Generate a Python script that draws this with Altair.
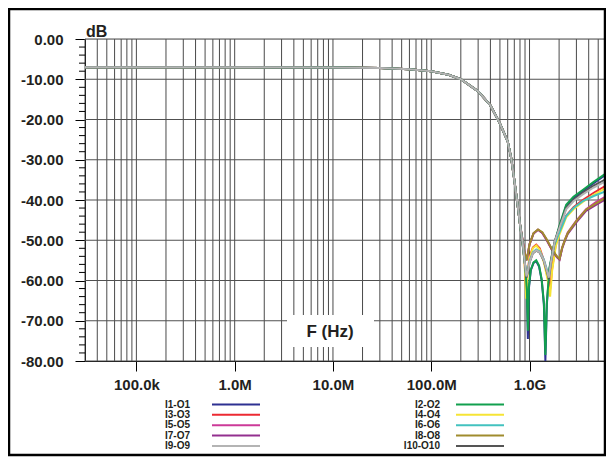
import altair as alt
import pandas as pd

# ---------------- data ----------------
SERIES = ["I1-O1", "I2-O2", "I3-O3", "I4-O4", "I5-O5",
          "I6-O6", "I7-O7", "I8-O8", "I9-O9", "I10-O10"]
COLORS = ["#2e3192", "#12a04e", "#ec2a32", "#f6e435", "#cc3a98",
          "#43c2bf", "#93308f", "#a08c2e", "#b4b4b4", "#555555"]
# drawing order (last drawn on top)
DRAW_ORDER = ["I1-O1", "I3-O3", "I4-O4", "I5-O5", "I7-O7", "I8-O8",
              "I6-O6", "I2-O2", "I10-O10", "I9-O9"]

# common low-frequency part (all ports overlap)
F_LOW = [3e4, 1e5, 1e6, 1e7, 3e7, 6e7, 1e8, 1.5e8, 2e8, 3e8, 4e8, 5e8,
         6e8, 6.5e8, 7e8, 7.5e8, 8e8]
DB_LOW = [-7.0, -7.0, -7.0, -7.05, -7.2, -7.5, -8.0, -8.9, -10.0, -13.0,
          -16.5, -21.0, -25.5, -29.5, -35.0, -40.5, -46.0]

# group A : deepest notches
F_TAIL_A = [8.5e8, 9.0e8, 9.4e8, 9.62e8, 9.85e8, 1.03e9, 1.1e9, 1.17e9,
            1.25e9, 1.33e9, 1.40e9, 1.45e9, 1.50e9, 1.6e9, 1.75e9, 2.0e9,
            2.36e9, 2.8e9, 3.48e9, 4.5e9, 6.0e9]
DB_I1 = [-51.0, -56.0, -63.0, -74.5, -62.0, -57.5, -55.6, -55.2, -56.5,
         -60.0, -66.0, -80.0, -66.0, -57.0, -52.0, -47.0, -41.5, -39.5,
         -37.8, -35.8, -33.7]
DB_I2 = [-51.0, -56.0, -62.5, -72.5, -61.5, -57.3, -55.5, -55.0, -56.3,
         -59.7, -65.5, -78.5, -65.5, -56.7, -51.7, -46.6, -41.2, -39.2,
         -37.5, -35.5, -33.4]

# group B : red / yellow
F_TAIL_B = [8.5e8, 8.9e8, 9.25e8, 9.5e8, 1.0e9, 1.08e9, 1.17e9, 1.27e9,
            1.4e9, 1.52e9, 1.62e9, 1.7e9, 1.85e9, 2.0e9, 2.36e9, 2.8e9,
            3.48e9, 4.5e9, 6.0e9]
DB_I3 = [-50.5, -55.0, -63.0, -58.5, -54.2, -51.8, -51.1, -52.0, -55.0,
         -58.8, -62.2, -57.0, -51.0, -48.3, -43.9, -41.8, -40.0, -38.2, -36.4]
DB_I4 = [-50.5, -55.5, -64.5, -59.0, -54.5, -52.0, -51.3, -52.3, -55.5,
         -59.5, -64.0, -57.5, -51.5, -48.8, -44.3, -42.3, -40.5, -38.7, -37.0]

# group C : grays / teal
F_TAIL_C = [8.5e8, 8.9e8, 9.3e8, 9.65e8, 1.0e9, 1.08e9, 1.17e9, 1.27e9,
            1.4e9, 1.5e9, 1.57e9, 1.65e9, 1.8e9, 2.0e9, 2.36e9, 2.8e9,
            3.48e9, 4.5e9, 6.0e9]
DB_I6 = [-50.5, -55.0, -59.0, -57.3, -55.3, -53.0, -52.3, -52.8, -54.8,
         -57.2, -59.0, -55.5, -51.0, -48.2, -44.0, -42.0, -40.3, -39.0, -37.8]
DB_I9 = [-50.5, -55.0, -59.0, -57.5, -55.5, -53.2, -52.5, -53.0, -55.0,
         -57.5, -59.3, -55.5, -50.5, -47.2, -42.3, -40.3, -38.6, -36.9, -35.3]
DB_I10 = [-50.5, -55.0, -59.3, -57.7, -55.6, -53.3, -52.6, -53.1, -55.2,
          -57.8, -59.6, -55.5, -50.3, -47.0, -42.0, -40.0, -38.2, -36.4, -34.8]

# group D : magenta / purple / olive
F_TAIL_D = [8.5e8, 8.9e8, 9.3e8, 9.65e8, 1.0e9, 1.1e9, 1.22e9, 1.35e9,
            1.5e9, 1.7e9, 1.9e9, 2.02e9, 2.15e9, 2.3e9, 2.45e9, 2.98e9,
            3.76e9, 4.7e9, 6.0e9]
DB_I5 = [-50.0, -53.0, -55.0, -53.2, -51.0, -48.3, -47.4, -48.2, -50.0,
         -52.5, -54.2, -54.8, -51.8, -49.8, -48.1, -45.2, -42.3, -40.6, -39.1]
DB_I7 = [-50.0, -53.0, -55.0, -53.2, -51.0, -48.3, -47.4, -48.2, -50.0,
         -52.5, -54.2, -54.8, -52.0, -50.0, -48.4, -45.6, -42.7, -41.3, -39.8]
DB_I8 = [-50.0, -53.0, -55.0, -53.2, -51.0, -48.2, -47.3, -48.0, -49.8,
         -52.3, -54.0, -54.6, -51.8, -49.8, -48.2, -45.3, -42.4, -40.9, -39.4]

TAILS = {
    "I1-O1": (F_TAIL_A, DB_I1), "I2-O2": (F_TAIL_A, DB_I2),
    "I3-O3": (F_TAIL_B, DB_I3), "I4-O4": (F_TAIL_B, DB_I4),
    "I5-O5": (F_TAIL_D, DB_I5), "I6-O6": (F_TAIL_C, DB_I6),
    "I7-O7": (F_TAIL_D, DB_I7), "I8-O8": (F_TAIL_D, DB_I8),
    "I9-O9": (F_TAIL_C, DB_I9), "I10-O10": (F_TAIL_C, DB_I10),
}

X_TICKS = [1e5, 1e6, 1e7, 1e8, 1e9]
X_TICK_LABELS = ["100.0k", "1.0M", "10.0M", "100.0M", "1.0G"]
Y_TICKS = [0, -10, -20, -30, -40, -50, -60, -70, -80]
Y_MINOR = [v for v in range(-80, 1, 2) if v % 10 != 0]

# ---------------- build tables ----------------
rows = []
for s in DRAW_ORDER:
    tf, td = TAILS[s]
    for i, (f, v) in enumerate(zip(F_LOW + tf, DB_LOW + td)):
        rows.append({"series": s, "f": f, "db": v, "i": i})
df = pd.DataFrame(rows)

grid_f = []
for e in range(4, 10):
    for m in range(1, 10):
        val = m * 10 ** e
        if 3e4 <= val <= 6e9:
            grid_f.append(val)
grid_df = pd.DataFrame({"f": grid_f})

W, H = 521, 322
FONT = "Liberation Sans"
xs = alt.Scale(type="log", domain=[3e4, 6e9], nice=False)
ys = alt.Scale(domain=[-80, 0], nice=False)
cs = alt.Scale(domain=SERIES, range=COLORS)

label_expr = "[" + ",".join("'%s'" % t for t in X_TICK_LABELS) + \
    "][round(log(datum.value)/LN10) - 5]"

X_AXIS = alt.Axis(
    values=X_TICKS, labelExpr=label_expr, title=None, grid=False,
    tickSize=10, tickColor="black", domainColor="black", tickWidth=1,
    labelFont=FONT, labelFontWeight="bold", labelFontSize=15,
    labelColor="#231f20", labelPadding=6)
Y_AXIS = alt.Axis(
    values=Y_TICKS,
    labelExpr="datum.value == 0 ? '0.00' : '-' + format(-datum.value, '.2f')",
    title=None, grid=False, tickSize=10, tickColor="black", tickWidth=1,
    domainColor="black", labelFont=FONT, labelFontWeight="bold",
    labelFontSize=15, labelColor="#231f20", labelPadding=12)

vgrid = alt.Chart(grid_df).mark_rule(color="#4a4a4a", strokeWidth=1).encode(
    x=alt.X("f:Q", scale=xs, axis=X_AXIS))

hgrid = alt.Chart(pd.DataFrame({"db": Y_TICKS})).mark_rule(
    color="#505050", strokeWidth=1.2).encode(y=alt.Y("db:Q", scale=ys, axis=Y_AXIS))

minor = alt.Chart(pd.DataFrame({"db": Y_MINOR})).mark_rule(
    color="black", strokeWidth=1).encode(
    y=alt.Y("db:Q", scale=ys, axis=Y_AXIS), x=alt.value(-6), x2=alt.value(0))

one = pd.DataFrame({"a": [0]})
box = alt.Chart(one).mark_rect(fill="white").encode(
    x=alt.value(202), x2=alt.value(289), y=alt.value(276), y2=alt.value(308))
ftitle = alt.Chart(one).mark_text(
    text="F (Hz)", font=FONT, fontWeight="bold", fontSize=17, color="#231f20",
    align="center", baseline="middle").encode(x=alt.value(245), y=alt.value(293))
dbtitle = alt.Chart(one).mark_text(
    text="dB", font=FONT, fontWeight="bold", fontSize=16, color="#231f20",
    align="left", baseline="alphabetic").encode(x=alt.value(1), y=alt.value(-2))

lines = alt.Chart(df).mark_line(strokeWidth=2, clip=True).encode(
    x=alt.X("f:Q", scale=xs, axis=X_AXIS),
    y=alt.Y("db:Q", scale=ys, axis=Y_AXIS),
    color=alt.Color("series:N", scale=cs, legend=None),
    detail="series:N",
    order="i:Q",
)

# manual legend: two columns, labels left of line samples
LEG_LEFT = ["I1-O1", "I3-O3", "I5-O5", "I7-O7", "I9-O9"]
LEG_RIGHT = ["I2-O2", "I4-O4", "I6-O6", "I8-O8", "I10-O10"]
leg_rows = []
for col, names in enumerate([LEG_LEFT, LEG_RIGHT]):
    for r, n in enumerate(names):
        leg_rows.append({
            "series": n,
            "tx": 105 + 250 * col,
            "lx1": 127 + 244 * col,
            "lx2": 175 + 244 * col,
            "ly": 365.5 + 10.35 * r,
        })
leg_df = pd.DataFrame(leg_rows)
leg_lines = alt.Chart(leg_df).mark_rule(strokeWidth=2).encode(
    x=alt.X("lx1:Q", scale=None, axis=None), x2="lx2:Q",
    y=alt.Y("ly:Q", scale=None, axis=None),
    color=alt.Color("series:N", scale=cs, legend=None))
leg_text = alt.Chart(leg_df).mark_text(
    font=FONT, fontWeight="bold", fontSize=10, color="#231f20",
    align="right", baseline="middle").encode(
    x=alt.X("tx:Q", scale=None, axis=None),
    y=alt.Y("ly:Q", scale=None, axis=None), text="series:N")

frame = alt.Chart(one).mark_rect(
    fill="transparent", stroke="black", strokeWidth=2.5).encode(
    x=alt.value(-76), x2=alt.value(520), y=alt.value(-30), y2=alt.value(416))

chart = alt.layer(
    vgrid, hgrid, minor, box, ftitle, lines, dbtitle, leg_lines, leg_text, frame
).properties(
    width=W, height=H,
    autosize=alt.AutoSizeParams(type="none"),
    padding={"left": 77, "top": 31, "right": 0, "bottom": 96},
).configure_view(stroke=None).configure(background="white")

chart.save("out.html", embed_options={"renderer": "svg", "actions": False})
